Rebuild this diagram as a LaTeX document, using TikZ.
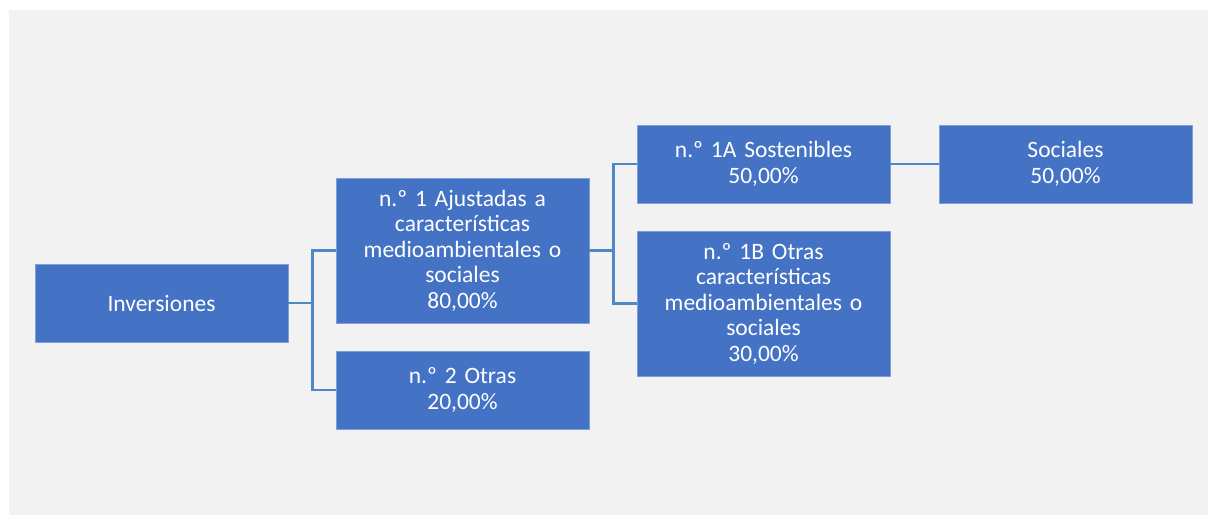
\documentclass[tikz,border=0pt]{standalone}
\usepackage{fontspec}
\setmainfont{Carlito}
\usetikzlibrary{positioning}
\definecolor{boxblue}{HTML}{4472C4}
\definecolor{boxedge}{HTML}{7F9FD8}
\definecolor{linkblue}{HTML}{5087C7}
\definecolor{backgray}{HTML}{F2F2F2}

\begin{document}
\begin{tikzpicture}[x=1pt,y=-1pt,
    caja/.style={draw=boxedge,line width=0.8pt,fill=boxblue,text=white,
      minimum width=253pt,minimum height=78pt,text width=245pt,align=center,
      inner sep=0pt,font=\fontsize{23.5}{25.5}\selectfont},
    alta/.style={caja,minimum height=145pt},
    enlace/.style={draw=linkblue,line width=2.8pt}]
        \useasboundingbox (0,0) rectangle (1208,515);
        \fill[backgray] (9,10) rectangle (1208,515);
        \node[caja] (inv) at (161.5,303) {Inversiones};
        \node[alta] (n1) at (462.5,250.5) {n.º 1 Ajustadas a\\características\\medioambientales o\\sociales\\80,00\%};
        \node[caja] (n2) at (462.5,390) {n.º 2 Otras\\20,00\%};
        \node[caja] (n1a) at (763.5,164) {n.º 1A Sostenibles\\50,00\%};
        \node[alta] (n1b) at (763.5,303.5) {n.º 1B Otras\\características\\medioambientales o\\sociales\\30,00\%};
        \node[caja] (soc) at (1065.5,164) {Sociales\\50,00\%};
        \draw[enlace] (inv.east) -- ++(24,0) |- (n1.west);
        \draw[enlace] (inv.east) -- ++(24,0) |- (n2.west);
        \draw[enlace] (n1.east) -- ++(24,0) |- (n1a.west);
        \draw[enlace] (n1.east) -- ++(24,0) |- (n1b.west);
        \draw[enlace] (n1a) -- (soc);
\end{tikzpicture}
\end{document}
